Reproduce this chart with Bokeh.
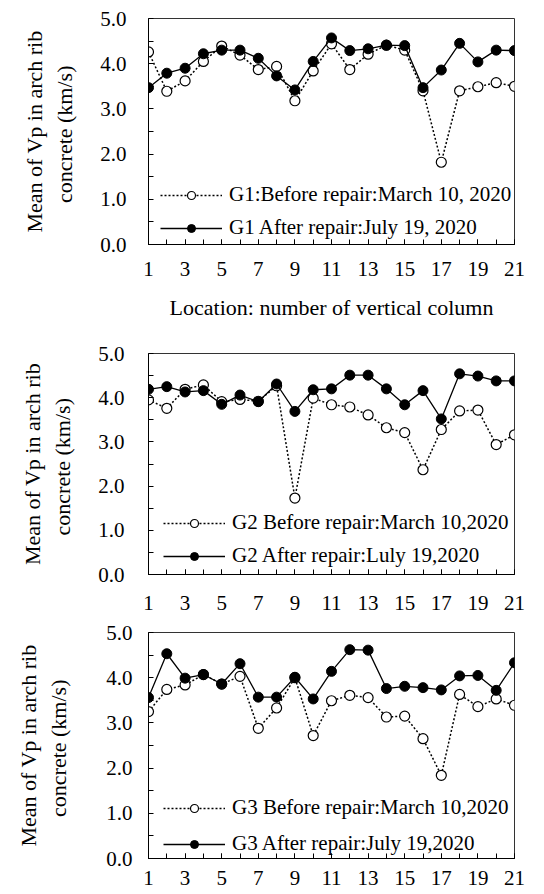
from bokeh.plotting import figure
from bokeh.layouts import column
from bokeh.models import FixedTicker, Legend, LegendItem, PrintfTickFormatter, Range1d
from bokeh.embed import file_html
from bokeh.resources import INLINE

# ---- data ----
columns = list(range(1, 22))
x_tick_labels = [1, 3, 5, 7, 9, 11, 13, 15, 17, 19, 21]
y_ticks = [0, 1, 2, 3, 4, 5]

g1_before = [4.26, 3.39, 3.62, 4.05, 4.39, 4.19, 3.87, 3.94, 3.18, 3.84,
             4.44, 3.87, 4.21, 4.41, 4.30, 3.40, 1.82, 3.40, 3.49, 3.58, 3.50]
g1_after = [3.47, 3.79, 3.90, 4.22, 4.30, 4.30, 4.12, 3.73, 3.42, 4.05,
            4.57, 4.29, 4.33, 4.41, 4.40, 3.47, 3.86, 4.45, 4.04, 4.30, 4.29]

g2_before = [3.95, 3.76, 4.19, 4.29, 3.91, 3.96, 3.92, 4.27, 1.73, 3.99,
             3.84, 3.79, 3.61, 3.32, 3.21, 2.37, 3.28, 3.70, 3.72, 2.94, 3.16]
g2_after = [4.19, 4.25, 4.13, 4.16, 3.85, 4.06, 3.91, 4.31, 3.69, 4.18,
            4.20, 4.51, 4.51, 4.20, 3.84, 4.16, 3.52, 4.54, 4.49, 4.38, 4.38]

g3_before = [3.25, 3.74, 3.84, 4.07, 3.86, 4.03, 2.88, 3.33, 4.00, 2.72,
             3.49, 3.61, 3.56, 3.13, 3.15, 2.65, 1.84, 3.63, 3.36, 3.53, 3.39]
g3_after = [3.56, 4.53, 3.99, 4.07, 3.86, 4.31, 3.57, 3.57, 4.01, 3.53,
            4.14, 4.62, 4.61, 3.76, 3.81, 3.78, 3.73, 4.04, 4.05, 3.72, 4.33]

g1_labels = ["G1:Before repair:March 10, 2020", "G1 After repair:July 19, 2020"]
g2_labels = ["G2 Before repair:March 10,2020", "G2 After repair:Luly 19,2020"]
g3_labels = ["G3 Before repair:March 10,2020", "G3 After repair:July 19,2020"]

y_label = "Mean of Vp in arch rib\nconcrete  (km/s)"
x_label = "Location: number of vertical column"

FONT = "Liberation Serif"


def make_panel(before, after, labels, height, b_left, b_right, b_top, b_bottom,
               y_standoff, ylab_standoff, x_standoff, legend_loc, legend_spacing,
               glyph_w, legend_standoff, xlabel=None):
    p = figure(width=528, height=height, output_backend="svg", toolbar_location=None,
               x_range=Range1d(1, 21), y_range=Range1d(0, 5),
               min_border_left=b_left, min_border_right=b_right,
               min_border_top=b_top, min_border_bottom=b_bottom)
    p.grid.visible = False
    p.outline_line_color = "#333333"
    p.outline_line_width = 1
    p.background_fill_color = "white"
    p.border_fill_color = "white"

    lb = p.line(columns, before, line_color="black", line_width=1.5, line_dash="2 2")
    sb = p.scatter(columns, before, size=10, marker="circle", fill_color="white",
                   line_color="black", line_width=1.2)
    la = p.line(columns, after, line_color="black", line_width=1.3)
    sa = p.scatter(columns, after, size=10, marker="circle", fill_color="black",
                   line_color="black", line_width=1)

    xa = p.xaxis[0]
    xa.ticker = FixedTicker(ticks=x_tick_labels, minor_ticks=columns)
    ya = p.yaxis[0]
    ya.ticker = FixedTicker(ticks=y_ticks, minor_ticks=[v + 0.5 for v in y_ticks[:-1]])
    ya.formatter = PrintfTickFormatter(format="%.1f")
    for ax in (xa, ya):
        ax.axis_line_color = "black"
        ax.axis_line_width = 1
        ax.major_tick_in = 5
        ax.major_tick_out = 0
        ax.minor_tick_in = 5
        ax.minor_tick_out = 0
        ax.major_tick_line_color = "black"
        ax.minor_tick_line_color = "black"
        ax.major_label_text_font = FONT
        ax.major_label_text_font_size = "21px"
        ax.major_label_text_font_style = "normal"
        ax.major_label_text_color = "black"
    ya.major_label_standoff = y_standoff
    xa.major_label_standoff = x_standoff
    ya.axis_label = y_label
    ya.axis_label_text_font = FONT
    ya.axis_label_text_font_size = "22px"
    ya.axis_label_text_font_style = "normal"
    ya.axis_label_text_color = "black"
    ya.axis_label_standoff = ylab_standoff
    if xlabel:
        xa.axis_label = xlabel
        xa.axis_label_text_font = FONT
        xa.axis_label_text_font_size = "22px"
        xa.axis_label_text_font_style = "normal"
        xa.axis_label_text_color = "black"
        xa.axis_label_standoff = 16

    legend = Legend(items=[LegendItem(label=labels[0], renderers=[lb, sb]),
                           LegendItem(label=labels[1], renderers=[la, sa])],
                    location=legend_loc, orientation="vertical",
                    glyph_width=glyph_w, glyph_height=20, label_standoff=legend_standoff,
                    spacing=legend_spacing, padding=0, margin=0,
                    label_text_font=FONT, label_text_font_size="21px",
                    label_text_color="black",
                    background_fill_alpha=0, border_line_alpha=0)
    p.add_layout(legend, "center")
    return p


p1 = make_panel(g1_before, g1_after, g1_labels, height=333, b_left=142, b_right=4,
                b_top=18, b_bottom=89, y_standoff=22, ylab_standoff=20, x_standoff=17,
                legend_loc=(12, 4), legend_spacing=8, glyph_w=62, legend_standoff=7,
                xlabel=x_label)
p2 = make_panel(g2_before, g2_after, g2_labels, height=287, b_left=144, b_right=4,
                b_top=20, b_bottom=46, y_standoff=24, ylab_standoff=20, x_standoff=21,
                legend_loc=(15, 6), legend_spacing=8, glyph_w=62, legend_standoff=7)
p3 = make_panel(g3_before, g3_after, g3_labels, height=274, b_left=148, b_right=14,
                b_top=12, b_bottom=36, y_standoff=16, ylab_standoff=32, x_standoff=12,
                legend_loc=(15, 2), legend_spacing=11, glyph_w=62, legend_standoff=7)

layout = column(p1, p2, p3, spacing=0)
open("out.html", "w").write(file_html(layout, INLINE))
